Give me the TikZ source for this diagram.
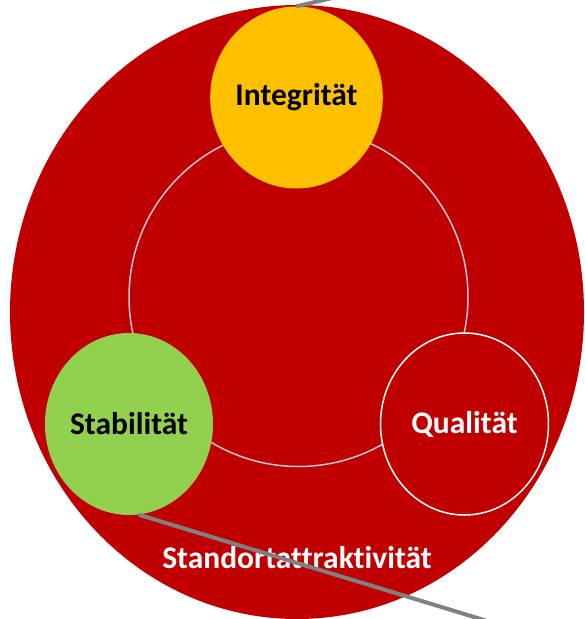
\documentclass[tikz,border=0pt]{standalone}
\usepackage{fontspec}
\setmainfont{Carlito}[Ligatures=NoCommon]
\usetikzlibrary{shapes.geometric}
\definecolor{dunkelrot}{HTML}{C00000}
\definecolor{gelb}{HTML}{FFC000}
\definecolor{gruen}{HTML}{92D050}
\definecolor{ring}{HTML}{BCC8DA}
\definecolor{balken}{HTML}{808080}

\begin{document}
\begin{tikzpicture}[x=1pt, y=-1pt,
	kreis/.style={ellipse, inner sep=0pt, minimum width=168pt, minimum height=182pt,
		font=\fontsize{31.5}{36}\selectfont\bfseries},
	linie/.style={balken, line width=4pt}]
	\useasboundingbox (0,0) rectangle (585,619);
	\clip (0,0) rectangle (585,619);
	
	% Big red background
	\fill[dunkelrot] (297,312) ellipse [x radius=287, y radius=307];
	
	% Inner ring
	\draw[ring, line width=1.5pt] (298.5,297) circle (169.5);
	
	% The three circles
	\node[kreis, fill=gelb, text=black] (integ) at (296.5,97.5) {Integrität};
	\node[kreis, fill=gruen, text=black] (stabil) at (129,424) {Stabilität};
	\node[kreis, fill=dunkelrot, draw=white, line width=1.5pt, text=white] (qual) at (464.5,424) {\raisebox{-3pt}{Qualität}};
	
	% Label
	\node[anchor=base, text=white, font=\fontsize{31.5}{36}\selectfont\bfseries] (standort) at (297,568) {Standortattraktivität};
	
	% Grey lines
	\coordinate (oben) at (397,-17);
	\coordinate (unten) at (520,631);
	\draw[linie] (integ.north) -- (oben);
	\draw[linie] (stabil.-84) -- (unten);
	
\end{tikzpicture}
\end{document}
